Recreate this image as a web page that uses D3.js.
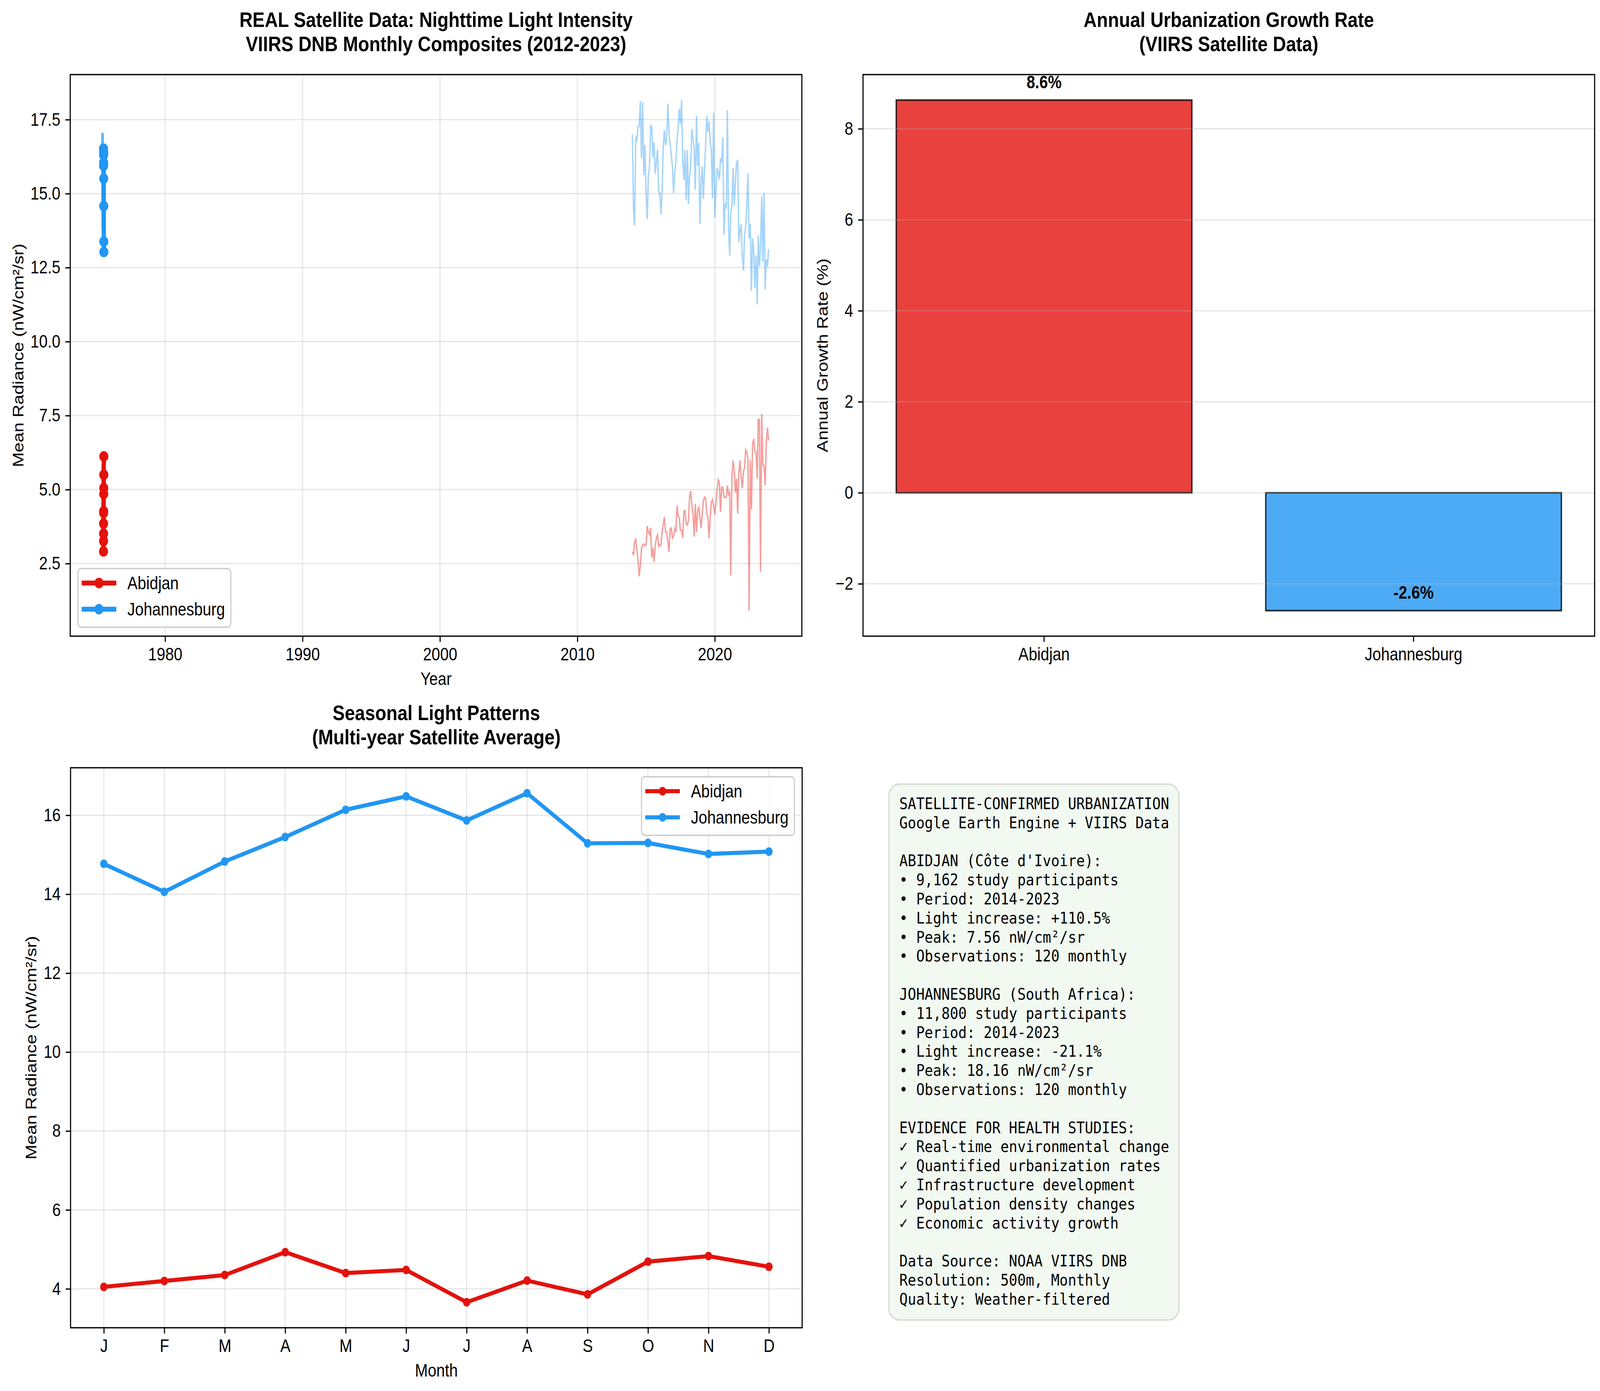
<!DOCTYPE html>
<html>
<head>
<meta charset="utf-8">
<script src="https://cdn.jsdelivr.net/npm/d3@7"></script>
<style>
  html, body { margin: 0; padding: 0; background: #fff; overflow: hidden; }
  svg { display: block; width: 100vw; height: 100vh; }
</style>
</head>
<body>
<svg id="chart"></svg>
<script>
// ---- data ----
const cities = ['Abidjan', 'Johannesburg']
const years = [2014, 2015, 2016, 2017, 2018, 2019, 2020, 2021, 2022, 2023]

const abidjanMonthly = [
  2.90, 2.78, 3.25, 3.32, 3.00, 2.60, 2.07, 2.44, 3.00, 3.13, 3.16, 3.10,
  3.13, 3.77, 3.56, 3.48, 3.70, 2.70, 3.03, 2.55, 3.10, 3.36, 3.47, 3.09,
  3.14, 3.11, 3.56, 3.81, 4.08, 3.56, 3.55, 3.23, 2.90, 3.67, 3.70, 3.36,
  3.43, 3.67, 3.57, 4.46, 4.12, 4.04, 3.63, 3.62, 3.37, 4.27, 4.29, 3.82,
  3.80, 3.97, 4.72, 4.95, 4.50, 4.18, 3.41, 4.52, 3.57, 4.27, 4.42, 4.07,
  3.71, 4.14, 4.60, 4.75, 4.70, 4.19, 4.09, 3.36, 4.04, 4.58, 4.66, 4.42,
  4.16, 4.55, 4.98, 5.33, 5.24, 4.24, 5.08, 5.07, 4.75, 4.73, 4.74, 5.13,
  4.83, 4.90, 2.10, 5.46, 5.99, 5.66, 4.90, 5.37, 4.19, 5.56, 5.99, 5.41,
  5.05, 5.61, 5.71, 6.34, 6.27, 6.04, 0.91, 5.98, 4.34, 6.54, 6.71, 6.29,
  6.28, 5.37, 7.37, 7.36, 2.22, 7.56, 5.84, 5.80, 5.15, 6.60, 7.09, 6.66
]
const johannesburgMonthly = [
  17.00, 14.41, 13.92, 16.92, 16.82, 17.26, 17.27, 18.13, 16.20, 18.09, 15.62, 16.64,
  14.95, 14.14, 15.58, 15.88, 17.29, 17.23, 16.22, 16.73, 15.67, 16.04, 16.49, 15.05,
  15.02, 14.30, 15.10, 16.59, 17.15, 16.64, 16.82, 18.04, 17.07, 16.69, 16.31, 15.91,
  15.02, 15.71, 16.01, 16.77, 17.18, 17.87, 17.35, 18.16, 16.11, 15.46, 16.48, 14.78,
  16.47, 14.65, 15.55, 15.96, 17.18, 16.85, 16.52, 15.13, 17.62, 15.95, 16.72, 13.97,
  15.40, 15.92, 14.82, 15.71, 16.62, 17.62, 17.08, 17.45, 16.72, 16.49, 14.84, 17.73,
  14.19, 15.10, 15.86, 15.71, 15.47, 16.19, 16.06, 16.90, 13.60, 14.67, 14.50, 17.81,
  13.86, 12.91, 14.36, 14.64, 15.86, 14.59, 15.40, 16.05, 16.14, 13.36, 13.76, 13.97,
  12.87, 12.40, 13.55, 13.88, 14.64, 15.67, 13.48, 13.98, 11.71, 13.49, 13.08, 11.80,
  12.91, 11.26, 13.59, 12.54, 13.17, 14.91, 12.70, 15.03, 11.77, 12.77, 12.53, 13.12
]
const abidjanAnnual = [2.91, 3.26, 3.51, 3.85, 4.21, 4.27, 4.85, 5.05, 5.50, 6.12]
const johannesburgAnnual = [16.52, 15.94, 16.30, 16.41, 16.05, 16.37, 15.51, 14.58, 13.38, 13.03]

const monthLabels = ['J', 'F', 'M', 'A', 'M', 'J', 'J', 'A', 'S', 'O', 'N', 'D']
const abidjanSeasonal = [4.05, 4.20, 4.35, 4.93, 4.40, 4.48, 3.66, 4.21, 3.86, 4.69, 4.83, 4.56]
const johannesburgSeasonal = [14.77, 14.06, 14.83, 15.45, 16.14, 16.48, 15.87, 16.56, 15.29, 15.30, 15.02, 15.08]

const growthRates = [8.63, -2.59]

const yearTicks = [1980, 1990, 2000, 2010, 2020]
const radianceTicks = [2.5, 5.0, 7.5, 10.0, 12.5, 15.0, 17.5]
const seasonalTicks = [4, 6, 8, 10, 12, 14, 16]
const growthTicks = [-2, 0, 2, 4, 6, 8]

const infoLines = [
  'SATELLITE-CONFIRMED URBANIZATION',
  'Google Earth Engine + VIIRS Data',
  '',
  "ABIDJAN (Côte d'Ivoire):",
  '• 9,162 study participants',
  '• Period: 2014-2023',
  '• Light increase: +110.5%',
  '• Peak: 7.56 nW/cm²/sr',
  '• Observations: 120 monthly',
  '',
  'JOHANNESBURG (South Africa):',
  '• 11,800 study participants',
  '• Period: 2014-2023',
  '• Light increase: -21.1%',
  '• Peak: 18.16 nW/cm²/sr',
  '• Observations: 120 monthly',
  '',
  'EVIDENCE FOR HEALTH STUDIES:',
  '✓ Real-time environmental change',
  '✓ Quantified urbanization rates',
  '✓ Infrastructure development',
  '✓ Population density changes',
  '✓ Economic activity growth',
  '',
  'Data Source: NOAA VIIRS DNB',
  'Resolution: 500m, Monthly',
  'Quality: Weather-filtered'
]

// ---- look ----
const W = 4761, H = 3562
const FONT = "'Liberation Sans', Arial, Helvetica, sans-serif"
const MONO = "'DejaVu Sans Mono', monospace"
const FS = 45.8, TITLE_FS = 54.2
const RED = '#e3120c', BLUE = '#2196f3'
const colors = [RED, BLUE]
const SPINE = 3.3, TICK = 14.6

// draw in figure pixels and stretch the viewBox over the whole window
const svg = d3.select('#chart')
  .attr('viewBox', `0 0 ${W} ${H}`)
  .attr('preserveAspectRatio', 'none')
  .style('font-family', FONT)
svg.append('rect').attr('width', W).attr('height', H).attr('fill', '#fff')

function panel(x0, y0, x1, y1) {
  const g = svg.append('g').attr('transform', `translate(${x0},${y0})`)
  return { g, w: x1 - x0, h: y1 - y0, x0, y0 }
}

function styleAxis(sel) {
  sel.select('.domain').remove()
  sel.selectAll('.tick line').attr('stroke', '#000').attr('stroke-width', SPINE)
  sel.selectAll('.tick text').attr('font-size', FS).attr('font-family', FONT).attr('fill', '#000')
}

function gridLines(p, x, y, xVals, yVals) {
  const g = p.g.append('g')
    .attr('stroke', '#b0b0b0').attr('stroke-opacity', 0.3).attr('stroke-width', SPINE)
  if (xVals) g.selectAll('.gx').data(xVals).enter().append('line')
    .attr('x1', d => x(d)).attr('x2', d => x(d)).attr('y1', 0).attr('y2', p.h)
  g.selectAll('.gy').data(yVals).enter().append('line')
    .attr('x1', 0).attr('x2', p.w).attr('y1', d => y(d)).attr('y2', d => y(d))
}

function frame(p) {
  p.g.append('rect').attr('width', p.w).attr('height', p.h)
    .attr('fill', 'none').attr('stroke', '#000').attr('stroke-width', SPINE)
}

function title(p, lines) {
  svg.append('text')
    .attr('x', p.x0 + p.w / 2).attr('y', p.y0 - 60 - 62 * (lines.length - 1))
    .attr('text-anchor', 'middle').attr('font-weight', 'bold').attr('font-size', TITLE_FS)
    .selectAll('tspan').data(lines).enter().append('tspan')
      .attr('x', p.x0 + p.w / 2).attr('dy', (d, i) => i ? 62 : 0).text(d => d)
}

function xLabel(p, txt) {
  p.g.append('text').attr('x', p.w / 2).attr('y', p.h + 125)
    .attr('text-anchor', 'middle').attr('font-size', FS).text(txt)
}

function yLabel(p, cx, txt) {
  svg.append('text')
    .attr('transform', `translate(${cx},${p.y0 + p.h / 2}) rotate(-90)`)
    .attr('text-anchor', 'middle').attr('dy', '0.35em').attr('font-size', FS).text(txt)
}

function legend(p, lx, ly, r, lw) {
  const g = p.g.append('g').attr('transform', `translate(${lx},${ly})`)
  g.append('rect').attr('width', 455).attr('height', 150).attr('rx', 10)
    .attr('fill', '#fff').attr('fill-opacity', 0.8)
    .attr('stroke', '#cccccc').attr('stroke-width', SPINE)
  const row = g.selectAll('.row').data(cities).enter().append('g')
    .attr('transform', (d, i) => `translate(0,${37 + i * 67})`)
  row.append('line').attr('x1', 11).attr('x2', 114)
    .attr('stroke', (d, i) => colors[i]).attr('stroke-width', lw)
  row.append('circle').attr('cx', 62.5).attr('r', r).attr('fill', (d, i) => colors[i])
  row.append('text').attr('x', 147).attr('dy', '0.35em').attr('font-size', FS).text(d => d)
}

// least-squares trend through the yearly means
function trend(vals) {
  const xs = d3.range(vals.length)
  const mx = d3.mean(xs), my = d3.mean(vals)
  const slope = d3.sum(xs, i => (i - mx) * (vals[i] - my)) / d3.sum(xs, i => (i - mx) ** 2)
  return xs.map(i => my + slope * (i - mx))
}

// ---- panel 1: time series ----
{
  const p = panel(209, 191, 2386, 1629)
  const monthDates = d3.utcMonth.range(new Date(Date.UTC(2014, 0, 1)), new Date(Date.UTC(2024, 0, 1)))
  // the yearly means were plotted with the bare year number as a day offset from 1970
  const annualDates = years.map(y => new Date(Date.UTC(1970, 0, 1 + y)))

  const tExt = d3.extent([...monthDates, ...annualDates])
  const tPad = (tExt[1] - tExt[0]) * 0.05
  const x = d3.scaleUtc().domain([new Date(+tExt[0] - tPad), new Date(+tExt[1] + tPad)]).range([0, p.w])

  const vExt = d3.extent([...abidjanMonthly, ...johannesburgMonthly, ...abidjanAnnual, ...johannesburgAnnual])
  const vPad = (vExt[1] - vExt[0]) * 0.05
  const y = d3.scaleLinear().domain([vExt[0] - vPad, vExt[1] + vPad]).range([p.h, 0])

  const yearDates = yearTicks.map(v => new Date(Date.UTC(v, 0, 1)))
  gridLines(p, x, y, yearDates, radianceTicks)

  const clip = p.g.append('clipPath').attr('id', 'clip1')
  clip.append('rect').attr('width', p.w).attr('height', p.h)
  const plot = p.g.append('g').attr('clip-path', 'url(#clip1)')

  const monthly = [abidjanMonthly, johannesburgMonthly]
  const annual = [abidjanAnnual, johannesburgAnnual]
  const line = d3.line()

  monthly.forEach((vals, i) => {
    plot.append('path')
      .attr('d', line(vals.map((v, k) => [x(monthDates[k]), y(v)])))
      .attr('fill', 'none').attr('stroke', colors[i]).attr('stroke-opacity', 0.4).attr('stroke-width', 4.2)
  })
  annual.forEach((vals, i) => {
    plot.append('path')
      .attr('d', line(trend(vals).map((v, k) => [x(annualDates[k]) - 3, y(v)])))
      .attr('fill', 'none').attr('stroke', colors[i]).attr('stroke-opacity', 0.7).attr('stroke-width', 8.3)
    plot.append('path')
      .attr('d', line(vals.map((v, k) => [x(annualDates[k]), y(v)])))
      .attr('fill', 'none').attr('stroke', colors[i]).attr('stroke-width', 12.5)
    plot.selectAll(null).data(vals).enter().append('circle')
      .attr('cx', (d, k) => x(annualDates[k])).attr('cy', d => y(d))
      .attr('r', 13.5).attr('fill', colors[i])
  })

  p.g.append('g').attr('transform', `translate(0,${p.h})`)
    .call(d3.axisBottom(x).tickValues(yearDates).tickFormat(d3.utcFormat('%Y')).tickSize(TICK).tickPadding(TICK))
    .call(styleAxis)
  p.g.append('g')
    .call(d3.axisLeft(y).tickValues(radianceTicks).tickFormat(d3.format('.1f')).tickSize(TICK).tickPadding(TICK))
    .call(styleAxis)
  frame(p)
  legend(p, 23, p.h - 23 - 150, 13.5, 12.5)
  title(p, ['REAL Satellite Data: Nighttime Light Intensity', 'VIIRS DNB Monthly Composites (2012-2023)'])
  xLabel(p, 'Year')
  yLabel(p, 54, 'Mean Radiance (nW/cm²/sr)')
}

// ---- panel 2: growth bars ----
{
  const p = panel(2568, 191, 4745, 1629)
  const x = d3.scaleBand().domain(cities).range([0, p.w]).paddingInner(0.2).paddingOuter(0.09)
  const gExt = d3.extent([0, ...growthRates])
  const gPad = (gExt[1] - gExt[0]) * 0.05
  const y = d3.scaleLinear().domain([gExt[0] - gPad, gExt[1] + gPad]).range([p.h, 0])

  p.g.selectAll('.bar').data(growthRates).enter().append('rect')
    .attr('x', (d, i) => x(cities[i])).attr('width', x.bandwidth())
    .attr('y', d => y(Math.max(0, d))).attr('height', d => Math.abs(y(d) - y(0)))
    .attr('fill', (d, i) => colors[i]).attr('fill-opacity', 0.8)
    .attr('stroke', '#000').attr('stroke-opacity', 0.8).attr('stroke-width', 4.2)

  gridLines(p, x, y, null, growthTicks)

  p.g.selectAll('.lbl').data(growthRates).enter().append('text')
    .attr('x', (d, i) => x(cities[i]) + x.bandwidth() / 2)
    .attr('y', d => y(d + 0.26))
    .attr('text-anchor', 'middle').attr('font-weight', 'bold').attr('font-size', FS)
    .text(d => d3.format('.1f')(d).replace('−', '-') + '%')

  p.g.append('g').attr('transform', `translate(0,${p.h})`)
    .call(d3.axisBottom(x).tickSize(TICK).tickPadding(TICK))
    .call(styleAxis)
  p.g.append('g')
    .call(d3.axisLeft(y).tickValues(growthTicks).tickFormat(d3.format('d')).tickSize(TICK).tickPadding(TICK))
    .call(styleAxis)
  frame(p)
  title(p, ['Annual Urbanization Growth Rate', '(VIIRS Satellite Data)'])
  yLabel(p, 2447, 'Annual Growth Rate (%)')
}

// ---- panel 3: seasonal pattern ----
{
  const p = panel(210, 1966, 2387, 3400)
  const months = d3.range(monthLabels.length)
  const x = d3.scalePoint().domain(months).range([0, p.w]).padding(0.55)
  const sExt = d3.extent([...abidjanSeasonal, ...johannesburgSeasonal])
  const sPad = (sExt[1] - sExt[0]) * 0.05
  const y = d3.scaleLinear().domain([sExt[0] - sPad, sExt[1] + sPad]).range([p.h, 0])

  gridLines(p, x, y, months, seasonalTicks)

  const seasonal = [abidjanSeasonal, johannesburgSeasonal]
  seasonal.forEach((vals, i) => {
    p.g.append('path')
      .attr('d', d3.line()(vals.map((v, k) => [x(k), y(v)])))
      .attr('fill', 'none').attr('stroke', colors[i]).attr('stroke-width', 10.4)
    p.g.selectAll(null).data(vals).enter().append('circle')
      .attr('cx', (d, k) => x(k)).attr('cy', d => y(d)).attr('r', 11).attr('fill', colors[i])
  })

  p.g.append('g').attr('transform', `translate(0,${p.h})`)
    .call(d3.axisBottom(x).tickFormat(k => monthLabels[k]).tickSize(TICK).tickPadding(TICK))
    .call(styleAxis)
  p.g.append('g')
    .call(d3.axisLeft(y).tickValues(seasonalTicks).tickFormat(d3.format('d')).tickSize(TICK).tickPadding(TICK))
    .call(styleAxis)
  frame(p)
  legend(p, p.w - 23 - 455, 23, 11, 10.4)
  title(p, ['Seasonal Light Patterns', '(Multi-year Satellite Average)'])
  xLabel(p, 'Month')
  yLabel(p, 92, 'Mean Radiance (nW/cm²/sr)')
}

// ---- panel 4: summary box ----
{
  const bx = 2645, by = 2008, bw = 863, bh = 1372
  svg.append('rect').attr('x', bx).attr('y', by).attr('width', bw).attr('height', bh)
    .attr('rx', 31).attr('fill', '#f1f9f1').attr('stroke', '#d8dcd8').attr('stroke-width', 4)
  svg.append('text').attr('font-family', MONO).attr('font-size', 41.7).attr('xml:space', 'preserve')
    .selectAll('tspan').data(infoLines).enter().append('tspan')
      .attr('x', bx + 31).attr('y', (d, i) => by + 64 + i * 48.8)
      .text(d => d)
}
</script>
</body>
</html>
